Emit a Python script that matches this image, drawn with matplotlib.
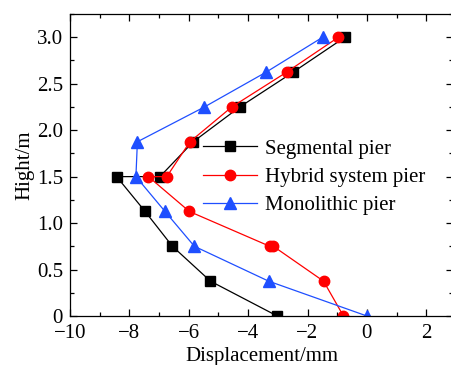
import matplotlib
matplotlib.use("Agg")
import matplotlib.pyplot as plt
from matplotlib.ticker import MultipleLocator

plt.rcParams['font.family'] = ['Liberation Serif', 'DejaVu Serif']
plt.rcParams['mathtext.fontset'] = 'stix'

seg_x = [-3.02, -5.27, -6.55, -7.47, -8.43, -6.97, -5.85, -4.28, -2.48, -0.74]
seg_y = [0.0, 0.375, 0.75, 1.125, 1.5, 1.5, 1.875, 2.25, 2.625, 3.0]

hyb_x = [-0.79, -1.46, -3.15, -3.27, -5.98, -7.36, -6.74, -5.96, -4.55, -2.70, -0.96]
hyb_y = [0.0, 0.375, 0.75, 0.75, 1.125, 1.5, 1.5, 1.875, 2.25, 2.625, 3.0]

mono_x = [0.0, -3.31, -5.81, -6.80, -7.78, -7.73, -5.47, -3.39, -1.49]
mono_y = [0.0, 0.375, 0.75, 1.125, 1.5, 1.875, 2.25, 2.625, 3.0]

labels = ["Segmental pier", "Hybrid system pier", "Monolithic pier"]
xticks = [-10, -8, -6, -4, -2, 0, 2]
yticks = [0, 0.5, 1.0, 1.5, 2.0, 2.5, 3.0]
yticklabels = ["0", "0.5", "1.0", "1.5", "2.0", "2.5", "3.0"]

fig = plt.figure(figsize=(4.52, 3.65), dpi=100)
ax = fig.add_axes([70/452, 49/365, 383/452, 302/365])

blue = '#1f4fff'
red = '#ff0000'
ax.plot(seg_x, seg_y, color='black', lw=0.9, marker='s', ms=7, label=labels[0])
ax.plot(hyb_x, hyb_y, color=red, lw=0.9, marker='o', ms=7.5, label=labels[1])
ax.plot(mono_x, mono_y, color=blue, lw=0.9, marker='^', ms=8, label=labels[2])

ax.set_xlim(-10, 2.9)
ax.set_ylim(0, 3.25)
ax.set_xticks(xticks)
ax.set_xticklabels([("\u2212" + str(abs(t))) if t < 0 else str(t) for t in xticks])
ax.set_yticks(yticks)
ax.set_yticklabels(yticklabels)
ax.xaxis.set_minor_locator(MultipleLocator(1))
ax.yaxis.set_minor_locator(MultipleLocator(0.25))
ax.tick_params(which='both', direction='in', top=True, right=True, labelsize=15)
ax.tick_params(axis='x', which='major', pad=6)
ax.tick_params(axis='y', which='major', pad=5)
ax.tick_params(which='major', length=5, width=0.9)
ax.tick_params(which='minor', length=3, width=0.9)
for s in ax.spines.values():
    s.set_linewidth(0.9)

ax.set_xlabel("Displacement/mm", fontsize=15, labelpad=3)
ax.set_ylabel("Hight/m", fontsize=15, labelpad=2)

ax.legend(loc='center left', bbox_to_anchor=(0.347, 0.46), frameon=False,
          fontsize=15, handlelength=2.6, handletextpad=0.4, labelspacing=0.42,
          borderpad=0, borderaxespad=0)

fig.savefig("out.png", dpi=100)
